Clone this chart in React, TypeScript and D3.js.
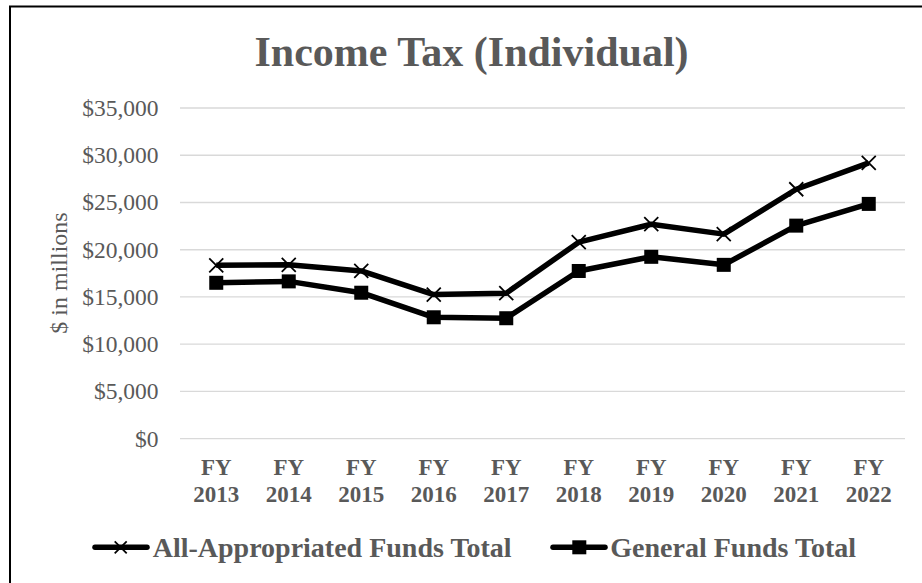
import React from "react";
import * as d3 from "d3";

const categories = ["2013", "2014", "2015", "2016", "2017", "2018", "2019", "2020", "2021", "2022"];
const allAppropriated = [18350, 18400, 17750, 15250, 15400, 20800, 22700, 21650, 26400, 29200];
const generalFunds = [16500, 16650, 15450, 12850, 12750, 17750, 19250, 18400, 22550, 24850];
const yTicks = [0, 5000, 10000, 15000, 20000, 25000, 30000, 35000];

const W = 922;
const H = 583;
const FONT = "'Liberation Serif', 'Times New Roman', serif";
const GRAY = "#595959";

export default function App() {
  const x = d3.scaleBand<string>().domain(categories).range([180, 905]);
  const y = d3.scaleLinear().domain([0, 35000]).range([438.7, 108]);
  const cx = (c: string) => (x(c) as number) + x.bandwidth() / 2;
  const line = d3
    .line<number>()
    .x((_, i) => cx(categories[i]))
    .y((d) => y(d));
  const fmt = (v: number) => "$" + d3.format(",")(v);

  const xMarker = (px: number, py: number, key: string, s = 7) => (
    <g key={key}>
      <line x1={px - s} y1={py - s} x2={px + s} y2={py + s} stroke="#000" strokeWidth={1.8} />
      <line x1={px - s} y1={py + s} x2={px + s} y2={py - s} stroke="#000" strokeWidth={1.8} />
    </g>
  );
  const sqMarker = (px: number, py: number, key: string, s = 7) => (
    <rect key={key} x={px - s} y={py - s} width={2 * s} height={2 * s} fill="#000" />
  );

  return (
    <svg
      width={W}
      height={H}
      style={{ position: "absolute", left: 0, top: 0, background: "#fff" }}
      fontFamily={FONT}
    >
      <rect x={0} y={0} width={W} height={H} fill="#fff" />
      <rect x={10} y={6.5} width={W + 20} height={H + 20} fill="none" stroke="#000" strokeWidth={2} />
      <text x={471.5} y={66} textAnchor="middle" fontSize={42} fontWeight="bold" fill={GRAY}>
        Income Tax (Individual)
      </text>
      {yTicks.map((t) => (
        <g key={t}>
          <line x1={180} x2={905} y1={y(t)} y2={y(t)} stroke="#d9d9d9" strokeWidth={1.3} />
          <text x={158.5} y={y(t) + 8} textAnchor="end" fontSize={23.5} fill={GRAY}>
            {fmt(t)}
          </text>
        </g>
      ))}
      <text
        transform={`translate(67,273) rotate(-90)`}
        textAnchor="middle"
        fontSize={24}
        fill={GRAY}
      >
        $ in millions
      </text>
      {categories.map((c) => (
        <g key={c}>
          <text x={cx(c)} y={475} textAnchor="middle" fontSize={23} fontWeight="bold" fill={GRAY}>
            FY
          </text>
          <text x={cx(c)} y={501.7} textAnchor="middle" fontSize={23} fontWeight="bold" fill={GRAY}>
            {c}
          </text>
        </g>
      ))}
      <path d={line(allAppropriated) || ""} fill="none" stroke="#000" strokeWidth={5.5} strokeLinejoin="round" />
      <path d={line(generalFunds) || ""} fill="none" stroke="#000" strokeWidth={5.5} strokeLinejoin="round" />
      {allAppropriated.map((v, i) => xMarker(cx(categories[i]), y(v), "a" + i))}
      {generalFunds.map((v, i) => sqMarker(cx(categories[i]), y(v), "g" + i))}
      <g>
        <line x1={95} x2={147} y1={547.3} y2={547.3} stroke="#000" strokeWidth={5.5} strokeLinecap="round" />
        {xMarker(120.7, 547.3, "la", 6)}
        <text x={152.7} y={556.7} fontSize={28} fontWeight="bold" fill={GRAY}>
          All-Appropriated Funds Total
        </text>
        <line x1={553} x2={605} y1={547.3} y2={547.3} stroke="#000" strokeWidth={5.5} strokeLinecap="round" />
        {sqMarker(579.3, 547.3, "lg", 7)}
        <text x={610.3} y={556.7} fontSize={28} fontWeight="bold" fill={GRAY}>
          General Funds Total
        </text>
      </g>
    </svg>
  );
}
